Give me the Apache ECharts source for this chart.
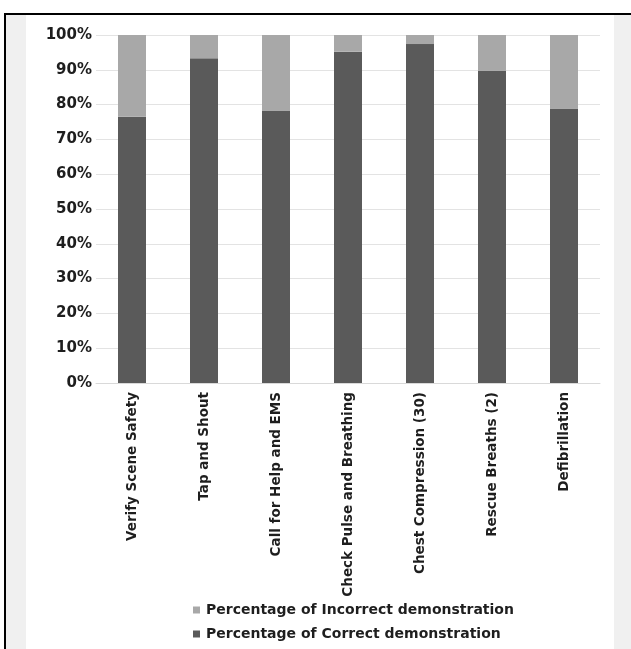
<!DOCTYPE html>
<html>
<head>
<meta charset="utf-8">
<script src="https://cdn.jsdelivr.net/npm/echarts@6/dist/echarts.min.js"></script>
<style>
html,body{margin:0;padding:0;background:#fff;}
#chart{width:631px;height:649px;}
</style>
</head>
<body>
<div id="chart"></div>
<script>
const categories = ["Verify Scene Safety","Tap and Shout","Call for Help and EMS","Check Pulse and Breathing","Chest Compression (30)","Rescue Breaths (2)","Defibrillation"];
const correctPct = [76.5, 93.3, 78.3, 95.2, 97.4, 89.7, 78.9];
const incorrectPct = [23.5, 6.7, 21.7, 4.8, 2.6, 10.3, 21.1];
const seriesNames = ["Percentage of Correct demonstration","Percentage of Incorrect demonstration"];

const chart = echarts.init(document.getElementById('chart'), null, {renderer:'canvas'});
const font = "DejaVu Sans";
chart.setOption({
  animation:false,
  backgroundColor:'#ffffff',
  textStyle:{fontFamily:font},
  graphic:[
    {type:'rect', shape:{x:6,y:15,width:20,height:640}, style:{fill:'#f0f0f0'}, z:-10},
    {type:'rect', shape:{x:614,y:15,width:17,height:640}, style:{fill:'#f0f0f0'}, z:-10},
    {type:'rect', shape:{x:4,y:13,width:2,height:640}, style:{fill:'#000'}, z:-9},
    {type:'rect', shape:{x:4,y:13,width:627,height:2}, style:{fill:'#000'}, z:-9}
  ],
  grid:{left:96, right:31, top:35, bottom:266, containLabel:false},
  legend:{
    orient:'vertical', left:188, top:598,
    data:[seriesNames[1], seriesNames[0]],
    itemWidth:7, itemHeight:7, itemGap:10,
    icon:'rect',
    textStyle:{fontFamily:font, fontWeight:'bold', fontSize:14, color:'#1e1e1e', padding:[0,0,0,1]}
  },
  xAxis:{
    type:'category', data:categories,
    axisLine:{show:true, lineStyle:{color:'#d9d9d9'}},
    axisTick:{show:false},
    axisLabel:{rotate:90, interval:0, margin:9, fontFamily:font, fontWeight:'bold', fontSize:13.5, color:'#1e1e1e'}
  },
  yAxis:{
    type:'value', min:0, max:100, interval:10,
    axisLine:{show:false}, axisTick:{show:false},
    splitLine:{lineStyle:{color:'#e3e3e3'}},
    axisLabel:{formatter:'{value}%', margin:4, fontFamily:font, fontWeight:'bold', fontSize:15, color:'#1e1e1e'}
  },
  series:[
    {name:seriesNames[0], type:'bar', stack:'a', data:correctPct, barWidth:28, itemStyle:{color:'#5a5a5a'}},
    {name:seriesNames[1], type:'bar', stack:'a', data:incorrectPct, barWidth:28, itemStyle:{color:'#a8a8a8'}}
  ]
});
</script>
</body>
</html>
